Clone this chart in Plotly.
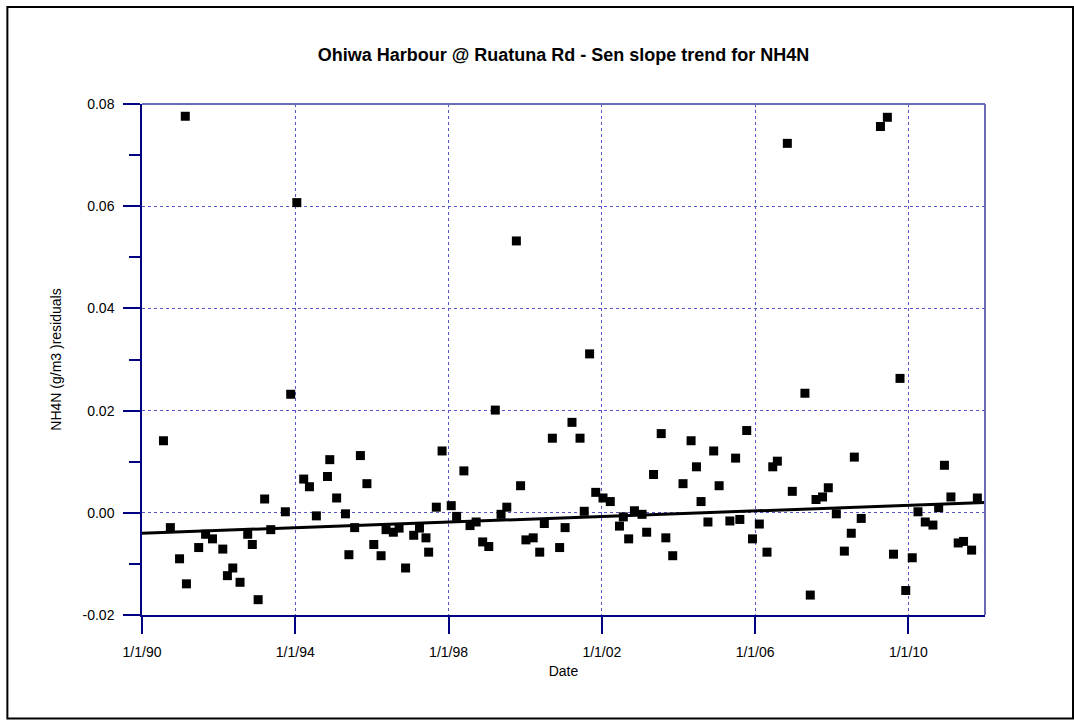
import plotly.graph_objects as go
import pandas as pd

# decimal-year sample times and residuals
sample_year = [
    1990.56, 1990.74, 1990.98, 1991.13, 1991.16, 1991.48, 1991.66, 1991.84, 1992.11, 1992.23,
    1992.37, 1992.56, 1992.76, 1992.88, 1993.03, 1993.20, 1993.36, 1993.74, 1993.88, 1994.04,
    1994.22, 1994.37, 1994.55, 1994.84, 1994.90, 1995.08, 1995.31, 1995.40, 1995.55, 1995.70,
    1995.87, 1996.05, 1996.24, 1996.37, 1996.56, 1996.71, 1996.88, 1997.09, 1997.24, 1997.41,
    1997.48, 1997.68, 1997.83, 1998.07, 1998.21, 1998.40, 1998.56, 1998.72, 1998.89, 1999.05,
    1999.22, 1999.37, 1999.52, 1999.77, 1999.88, 2000.02, 2000.21, 2000.38, 2000.50, 2000.71,
    2000.90, 2001.04, 2001.22, 2001.43, 2001.54, 2001.68, 2001.84, 2002.03, 2002.22, 2002.46,
    2002.56, 2002.70, 2002.85, 2003.05, 2003.17, 2003.35, 2003.55, 2003.67, 2003.85, 2004.12,
    2004.33, 2004.47, 2004.59, 2004.77, 2004.92, 2005.06, 2005.34, 2005.49, 2005.60, 2005.78,
    2005.93, 2006.11, 2006.31, 2006.46, 2006.58, 2006.84, 2006.97, 2007.30, 2007.44, 2007.59,
    2007.76, 2007.91, 2008.12, 2008.33, 2008.51, 2008.59, 2008.77, 2009.27, 2009.45, 2009.61,
    2009.78, 2009.93, 2010.10, 2010.25, 2010.44, 2010.64, 2010.79, 2010.94, 2011.11, 2011.30,
    2011.44, 2011.65, 2011.80,
]
residuals = [
    0.0141, -0.0029, -0.0090, 0.0776, -0.0139, -0.0068, -0.0042, -0.0051, -0.0071, -0.0123,
    -0.0108, -0.0136, -0.0042, -0.0062, -0.0170, 0.0027, -0.0033, 0.0002, 0.0232, 0.0607,
    0.0066, 0.0051, -0.0006, 0.0071, 0.0104, 0.0029, -0.0002, -0.0082, -0.0029, 0.0112,
    0.0057, -0.0062, -0.0084, -0.0033, -0.0038, -0.0030, -0.0108, -0.0044, -0.0030, -0.0049,
    -0.0077, 0.0011, 0.0121, 0.0014, -0.0007, 0.0082, -0.0025, -0.0018, -0.0057, -0.0066,
    0.0201, -0.0003, 0.0011, 0.0532, 0.0053, -0.0053, -0.0049, -0.0077, -0.0021, 0.0146,
    -0.0068, -0.0029, 0.0177, 0.0146, 0.0003, 0.0311, 0.0040, 0.0029, 0.0022, -0.0026,
    -0.0008, -0.0051, 0.0004, -0.0003, -0.0038, 0.0075, 0.0155, -0.0049, -0.0084, 0.0057,
    0.0141, 0.0090, 0.0022, -0.0018, 0.0121, 0.0053, -0.0016, 0.0107, -0.0013, 0.0161,
    -0.0051, -0.0022, -0.0077, 0.0090, 0.0101, 0.0723, 0.0042, 0.0234, -0.0161, 0.0026,
    0.0031, 0.0049, -0.0002, -0.0075, -0.0040, 0.0109, -0.0011, 0.0756, 0.0774, -0.0081,
    0.0263, -0.0152, -0.0088, 0.0002, -0.0018, -0.0024, 0.0010, 0.0093, 0.0031, -0.0059,
    -0.0056, -0.0073, 0.0029,
]

# Sen slope trend line end points
trend_dates = ["1990-01-01", "2012-01-01"]
trend_values = [-0.0040, 0.0020]

# axis ticks
x_tick_dates = ["1990-01-01", "1994-01-01", "1998-01-01", "2002-01-01", "2006-01-01", "2010-01-01"]
x_tick_labels = ["1/1/90", "1/1/94", "1/1/98", "1/1/02", "1/1/06", "1/1/10"]
y_tick_values = [-0.02, 0.00, 0.02, 0.04, 0.06, 0.08]
y_tick_labels = ["-0.02", "0.00", "0.02", "0.04", "0.06", "0.08"]


def to_date(y):
    yr = int(y)
    return pd.Timestamp(yr, 1, 1) + pd.Timedelta(days=(y - yr) * 365.25)


sample_dates = [to_date(y) for y in sample_year]

FONT = "Liberation Sans, Arial, sans-serif"
NAVY = "#000080"
FRAME = "#6a6ab8"
GRID = "#5555c8"

fig = go.Figure()
fig.add_trace(go.Scatter(
    x=sample_dates, y=residuals, mode="markers",
    marker=dict(symbol="square", size=9, color="black", line=dict(width=0)),
    showlegend=False, hoverinfo="x+y",
))
fig.add_trace(go.Scatter(
    x=trend_dates, y=trend_values, mode="lines",
    line=dict(color="black", width=3), showlegend=False, hoverinfo="skip",
))

fig.update_layout(
    width=1074, height=720,
    margin=dict(l=142, r=89, t=104, b=105),
    paper_bgcolor="white", plot_bgcolor="white",
    font=dict(family=FONT, color="black", size=14),
    title=dict(
        text="<b>Ohiwa Harbour @ Ruatuna Rd - Sen slope trend for NH4N</b>",
        x=0.5, xref="paper", xanchor="center",
        y=1 - 55 / 720, yref="container", yanchor="middle",
        font=dict(family=FONT, size=18, color="black"),
    ),
    xaxis=dict(
        type="date",
        range=["1990-01-01", "2012-01-01"],
        tickvals=x_tick_dates, ticktext=x_tick_labels,
        ticks="outside", ticklen=17, tickwidth=1.5, tickcolor=NAVY,
        showline=True, linecolor=NAVY, linewidth=1.5, mirror=False,
        showgrid=True, gridcolor=GRID, griddash="dot", gridwidth=1,
        zeroline=False,
        tickfont=dict(family=FONT, size=14, color="black"),
        ticklabelstandoff=6,
        title=dict(text="Date", standoff=8, font=dict(family=FONT, size=14, color="black")),
    ),
    yaxis=dict(
        range=[-0.02, 0.08],
        tickvals=y_tick_values, ticktext=y_tick_labels,
        ticks="outside", ticklen=17, tickwidth=1.5, tickcolor=NAVY,
        minor=dict(dtick=0.01, tick0=0, ticks="outside", ticklen=11, tickwidth=1.5,
                   tickcolor=NAVY, showgrid=False),
        showline=True, linecolor=NAVY, linewidth=1.5, mirror=False,
        showgrid=True, gridcolor=GRID, griddash="dot", gridwidth=1,
        zeroline=False,
        tickfont=dict(family=FONT, size=14, color="black"),
        ticklabelstandoff=6,
        title=dict(text="NH4N (g/m3 )residuals", standoff=18,
                   font=dict(family=FONT, size=14, color="black")),
    ),
    shapes=[
        # top and right frame of the plot area
        dict(type="line", xref="paper", yref="paper", x0=0, x1=1, y0=1, y1=1,
             line=dict(color=FRAME, width=2)),
        dict(type="line", xref="paper", yref="paper", x0=1, x1=1, y0=0, y1=1,
             line=dict(color=FRAME, width=2)),
        # outer border of the picture
        dict(type="rect", xref="paper", yref="paper",
             x0=-0.1597, x1=1.1044, y0=-0.2023, y1=1.1896,
             line=dict(color="black", width=2), fillcolor="rgba(0,0,0,0)", layer="below"),
    ],
)

fig.write_html("out.html")
